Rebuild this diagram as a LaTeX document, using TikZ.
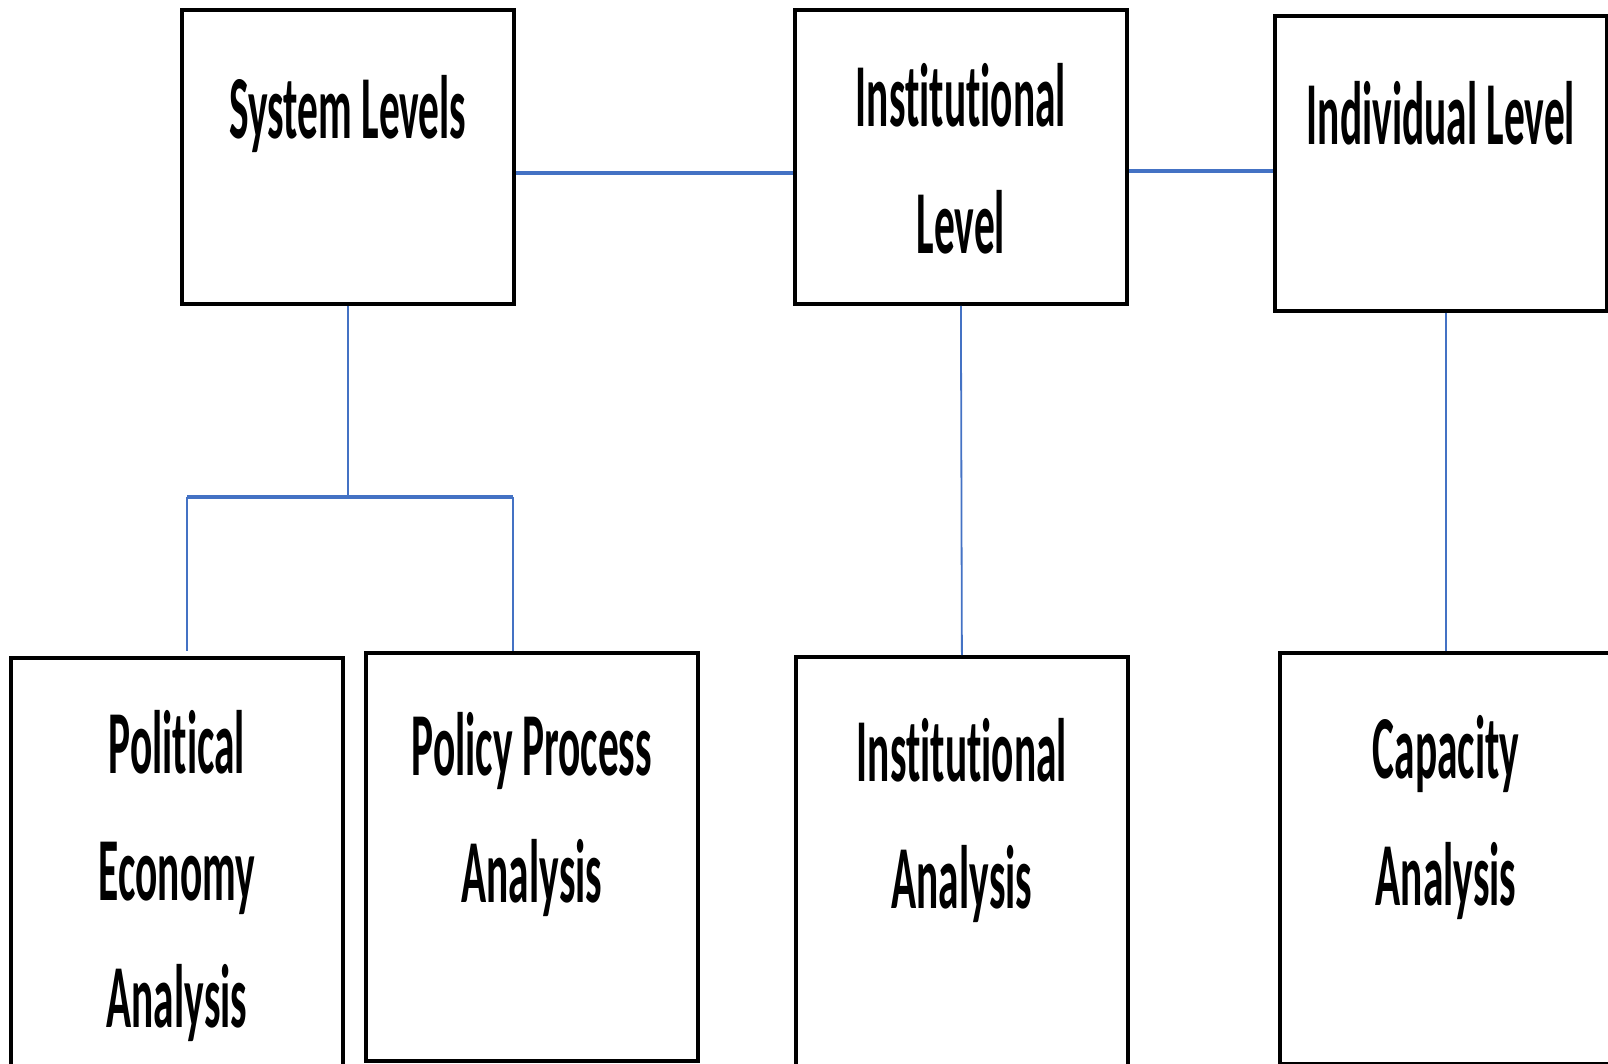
\documentclass[tikz,border=0pt]{standalone}
\usepackage{fontspec}
\newfontfamily\boxfont[FakeStretch=0.46, Ligatures=NoCommon]{Carlito}
\definecolor{linkblue}{HTML}{4472C4}
\tikzset{
  box/.style={draw, line width=1.9pt, inner sep=0pt, anchor=north west,
    minimum width=166pt, text width=166pt, align=flush center,
    font=\boxfont\bfseries\fontsize{45}{63.5}\selectfont},
  link/.style={draw=linkblue, line width=0.9pt},
  bus/.style={draw=linkblue, line width=1.9pt}
}
\begin{document}
\begin{tikzpicture}[x=0.5pt, y=-0.5pt]
  \path[use as bounding box, clip] (0,0) rectangle (1608,1064);
  \def \Boxes {
    sys/180/8/64.5/82.5/{System Levels},
    inst/793/8/58.5/88.5/{Institutional\\Level},
    indiv/1273/14/64.5/83/{Individual Level},
    pea/9/656/58/152/{Political\\Economy\\Analysis},
    ppa/364/651/61.5/142.5/{Policy Process\\Analysis},
    ia/794/655/62.5/147.5/{Institutional\\Analysis},
    ca/1278/651/63/142.5/{Capacity\\Analysis}}

  \foreach \id / \x / \y / \h / \d / \txt in \Boxes {
    \node[box, text height=\h pt, text depth=\d pt] (\id) at (\x, \y) {\txt};
  }

  % links between the levels
  \draw[bus] (sys.east |- 0,173) -- (inst.west |- 0,173);
  \draw[bus] (inst.east |- 0,171) -- (indiv.west |- 0,171);

  % system branch
  \coordinate (busl) at (187,497);
  \coordinate (busr) at (513,497);
  \draw[link] (sys.south) -- (sys.south |- busl);
  \draw[bus] (busl) -- (busr);
  \draw[link] (busl) -- (busl |- ppa.north);
  \draw[link] (busr) -- (busr |- ppa.north);

  \draw[link] (inst.south) -- (ia.north);
  \draw[link] (indiv.south -| ca.north) -- (ca.north);
\end{tikzpicture}
\end{document}
